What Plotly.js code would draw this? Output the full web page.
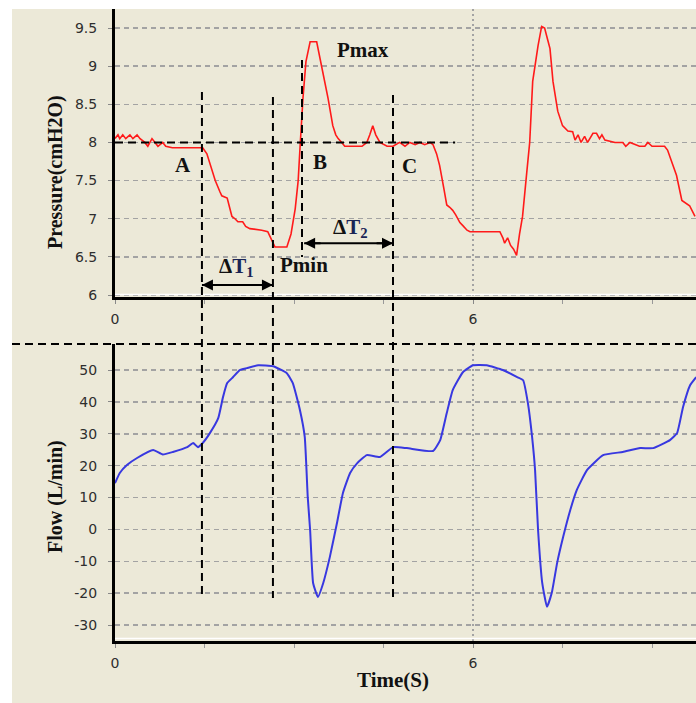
<!DOCTYPE html>
<html>
<head>
<meta charset="utf-8">
<script src="https://cdn.plot.ly/plotly-3.0.1.min.js"></script>
<style>html,body{margin:0;padding:0;background:#fff;}#chart{width:696px;height:703px;}</style>
</head>
<body>
<div id="chart"></div>
<script>
// Pressure (cmH2O) vs time (s)
const pressureTime = [0,0.05,0.08,0.13,0.18,0.25,0.30,0.37,0.42,0.50,0.55,0.62,0.67,0.72,0.80,0.85,0.96,1.47,1.54,1.59,1.64,1.68,1.76,1.79,1.88,1.93,1.96,2.01,2.06,2.14,2.19,2.26,2.46,2.56,2.63,2.68,2.88,2.95,3.02,3.07,3.10,3.15,3.20,3.27,3.38,3.43,3.48,3.57,3.65,3.70,3.74,3.80,3.85,4.14,4.22,4.27,4.32,4.37,4.44,4.56,4.66,4.77,4.86,4.94,5.03,5.11,5.19,5.28,5.33,5.39,5.44,5.51,5.56,5.61,5.66,5.71,5.78,5.83,5.90,5.95,6.45,6.50,6.53,6.58,6.63,6.68,6.73,6.78,6.83,6.90,6.95,7.00,7.05,7.09,7.15,7.20,7.25,7.29,7.34,7.39,7.42,7.50,7.59,7.67,7.71,7.76,7.81,7.87,7.92,8.01,8.07,8.12,8.16,8.21,8.38,8.51,8.56,8.63,8.79,8.88,8.93,9.00,9.21,9.26,9.33,9.41,9.50,9.63,9.72];
const pressureValue = [8.05,8.1,8.05,8.1,8.05,8.1,8.05,8.1,8.05,8.0,7.95,8.05,8.0,7.95,8.0,7.95,7.93,7.93,7.85,7.72,7.6,7.5,7.35,7.3,7.27,7.1,7.03,7.0,6.96,6.96,6.9,6.87,6.85,6.83,6.72,6.63,6.63,6.8,7.13,7.5,7.92,8.58,9.06,9.32,9.32,9.1,8.93,8.58,8.22,8.1,8.05,8.0,7.95,7.95,8.0,8.1,8.22,8.1,8.0,7.95,7.95,8.0,7.95,8.0,7.97,8.0,7.97,8.0,7.97,7.85,7.7,7.4,7.18,7.15,7.11,7.05,6.95,6.91,6.85,6.83,6.83,6.75,6.68,6.75,6.65,6.6,6.52,6.8,7.03,7.6,8.0,8.8,9.1,9.27,9.52,9.5,9.35,9.23,8.8,8.55,8.41,8.22,8.15,8.14,8.03,8.1,8.0,8.08,8.0,8.12,8.12,8.05,8.1,8.03,8.0,8.0,7.95,8.0,7.95,7.95,8.0,7.95,7.95,7.9,7.75,7.57,7.24,7.17,7.03];

// Flow (L/min) vs time (s)
const flowTime = [0,0.08,0.20,0.37,0.64,0.80,0.97,1.21,1.31,1.39,1.47,1.59,1.73,1.81,1.88,1.98,2.09,2.21,2.40,2.65,2.88,2.98,3.10,3.18,3.23,3.27,3.32,3.40,3.49,3.60,3.72,3.82,3.94,4.06,4.22,4.44,4.66,4.89,5.33,5.45,5.56,5.66,5.83,6.00,6.23,6.50,6.74,6.84,6.92,6.99,7.04,7.09,7.16,7.24,7.32,7.41,7.51,7.63,7.74,7.91,8.18,8.51,8.80,9.02,9.30,9.42,9.52,9.64,9.74];
const flowValue = [14.5,17.7,20.2,22.4,24.9,23.5,24.3,25.8,27.1,25.8,27.1,30.2,34.9,41.5,45.9,47.8,50,50.6,51.5,51.2,49,45.9,37.4,29,10.2,-0.2,-16.8,-21.2,-16.8,-8.7,2,11.4,17.7,20.8,23.3,22.7,25.8,25.5,24.6,28,36.5,43.7,49.3,51.5,51.5,50,47.8,46.8,39.6,29,18.6,-0.2,-16.8,-24.3,-19.9,-10.5,-2.4,6.1,12.4,18.6,23.3,24.3,25.5,25.5,28,30.2,38.4,45.3,47.8];

// Tick labels
const xTickVals = [0, 6];
const pressureTicks = [6, 6.5, 7, 7.5, 8, 8.5, 9, 9.5];
const flowTicks = [-30, -20, -10, 0, 10, 20, 30, 40, 50];

// Marker times: A, end of dT1, B, C
const markerTime = [1.457, 2.647, 3.134, 4.659];
const baselinePressure = 8;
const baselineEnd = 5.70;

const beige = '#ECE9D8';
const gridCol = '#a3a3a3';
const serif = 'Liberation Serif, Times New Roman, serif';
const tickFont = {family: 'DejaVu Sans, Verdana, sans-serif', size: 14, color: '#2e2e2e'};

const xCommon = {
  range: [0, 9.737], tickmode: 'array', tickvals: xTickVals, ticktext: xTickVals.map(String),
  showgrid: true, gridcolor: gridCol, gridwidth: 1.5, griddash: '2px,3px',
  zeroline: false, showline: true, linecolor: '#000', linewidth: 3,
  ticks: 'outside', ticklen: 4, tickcolor: '#888', tickwidth: 1,
  minor: {dtick: 1.5, tick0: 0, ticks: 'outside', ticklen: 4, tickcolor: '#999', showgrid: false},
  tickfont: tickFont, ticklabelstandoff: 3, fixedrange: true
};
const yCommon = {
  showgrid: true, gridcolor: gridCol, gridwidth: 1.5, griddash: '5px,4px',
  zeroline: false, showline: true, linecolor: '#000', linewidth: 3,
  ticks: 'outside', ticklen: 4, tickcolor: '#888', tickwidth: 1, tickmode: 'array',
  tickfont: tickFont, ticklabelstandoff: 8, fixedrange: true
};

const data = [
  {x: pressureTime, y: pressureValue, xaxis: 'x', yaxis: 'y', type: 'scatter', mode: 'lines',
   line: {color: '#ff1a1a', width: 1.6}, hoverinfo: 'skip'},
  {x: flowTime, y: flowValue, xaxis: 'x2', yaxis: 'y2', type: 'scatter', mode: 'lines',
   line: {color: '#3838e0', width: 2, shape: 'spline', smoothing: 0.4}, hoverinfo: 'skip'}
];

const pyTop = 0.5443;
const pyBot2 = 0.4699;
const pxToPaperY = p => (641 - p) / 632;
const pxToPaperX = p => (p - 115) / 581;

const dashBlack = {color: '#000', width: 2, dash: '8px,5px'};
const vExtents = [[92, 595], [97, 598], [60, 257], [95, 597]];

const shapes = [];
shapes.push({type: 'rect', xref: 'paper', yref: 'paper', x0: pxToPaperX(-2), x1: pxToPaperX(12), y0: pxToPaperY(705), y1: pxToPaperY(-2), fillcolor: '#fff', line: {width: 0}, layer: 'below'});
shapes.push({type: 'rect', xref: 'paper', yref: 'paper', x0: pxToPaperX(-2), x1: pxToPaperX(698), y0: pxToPaperY(9), y1: pxToPaperY(-2), fillcolor: '#fff', line: {width: 0}, layer: 'below'});
shapes.push({type: 'line', xref: 'paper', yref: 'paper', x0: 0, x1: 1, y0: pxToPaperY(294.5), y1: pxToPaperY(294.5), line: {color: '#fff', width: 1.5}, layer: 'above'});
shapes.push({type: 'line', xref: 'paper', yref: 'paper', x0: 0, x1: 1, y0: pxToPaperY(638.5), y1: pxToPaperY(638.5), line: {color: '#fff', width: 1.5}, layer: 'above'});
shapes.push({type: 'line', xref: 'paper', yref: 'paper', x0: pxToPaperX(12), x1: 1, y0: pyBot2, y1: pyBot2, line: dashBlack, layer: 'above'});
shapes.push({type: 'line', xref: 'x', yref: 'y', x0: 0, x1: baselineEnd, y0: baselinePressure, y1: baselinePressure, line: dashBlack, layer: 'above'});
markerTime.forEach((t, i) => {
  shapes.push({type: 'line', xref: 'x', yref: 'paper', x0: t, x1: t,
    y0: pxToPaperY(vExtents[i][0]), y1: pxToPaperY(vExtents[i][1]), line: dashBlack, layer: 'above'});
});
// double-headed arrows as lines with triangular heads (shapes)
function dblArrow(t0, t1, p) {
  shapes.push({type: 'line', xref: 'x', yref: 'y', x0: t0, x1: t1, y0: p, y1: p, line: {color: '#000', width: 2}, layer: 'above'});
}
dblArrow(markerTime[0], markerTime[1], 6.13);
dblArrow(3.17, markerTime[3], 6.68);

const lab = (text, x, y, extra) => Object.assign({text: text, x: x, y: y, xref: 'x', yref: 'y', showarrow: false,
  font: {family: serif, size: 21, color: '#111'}, xanchor: 'center', yanchor: 'middle'}, extra || {});

const arrowHead = (xHead, xTail, y) => ({x: xHead, y: y, ax: xTail, ay: y, xref: 'x', yref: 'y', axref: 'x', ayref: 'y',
  text: '', showarrow: true, arrowhead: 2, arrowsize: 1.1, arrowwidth: 2, arrowcolor: '#000', standoff: 0});

const annotations = [
  lab('<b>A</b>', 1.14, 7.70),
  lab('<b>B</b>', 3.44, 7.75),
  lab('<b>C</b>', 4.94, 7.69),
  lab('<b>Pmax</b>', 4.16, 9.21),
  lab('<b>Pmin</b>', 3.17, 6.39),
  lab('<b>Δ<span style="color:#1a2455">T<sub>1</sub></span></b>', 2.03, 6.37),
  lab('<b>Δ<span style="color:#1a2455">T<sub>2</sub></span></b>', 3.955, 6.88),
  arrowHead(markerTime[1], markerTime[1] - 0.3, 6.13),
  arrowHead(markerTime[0], markerTime[0] + 0.3, 6.13),
  arrowHead(markerTime[3], markerTime[3] - 0.3, 6.68),
  arrowHead(3.17, 3.47, 6.68),
  {text: '<b>Pressure(cmH2O)</b>', xref: 'paper', yref: 'paper', x: pxToPaperX(55), y: pxToPaperY(172), textangle: -90,
   showarrow: false, font: {family: serif, size: 20, color: '#111'}, xanchor: 'center', yanchor: 'middle'},
  {text: '<b>Flow (L/min)</b>', xref: 'paper', yref: 'paper', x: pxToPaperX(55), y: pxToPaperY(497), textangle: -90,
   showarrow: false, font: {family: serif, size: 20, color: '#111'}, xanchor: 'center', yanchor: 'middle'},
  {text: '<b>Time(S)</b>', xref: 'paper', yref: 'paper', x: pxToPaperX(393), y: pxToPaperY(680),
   showarrow: false, font: {family: serif, size: 21, color: '#111'}, xanchor: 'center', yanchor: 'middle'}
];

const layout = {
  width: 696, height: 703,
  margin: {l: 115, r: 0, t: 9, b: 62, pad: 0},
  paper_bgcolor: beige, plot_bgcolor: beige,
  showlegend: false,
  xaxis: Object.assign({}, xCommon, {anchor: 'y'}),
  yaxis: Object.assign({}, yCommon, {domain: [pyTop, 1], range: [5.974, 9.749],
    tickvals: pressureTicks, ticktext: pressureTicks.map(String), anchor: 'x'}),
  xaxis2: Object.assign({}, xCommon, {anchor: 'y2'}),
  yaxis2: Object.assign({}, yCommon, {domain: [0, pyBot2], range: [-35.02, 58.16],
    tickvals: flowTicks, ticktext: flowTicks.map(String), anchor: 'x2'}),
  shapes: shapes,
  annotations: annotations
};

Plotly.newPlot('chart', data, layout, {displayModeBar: false, staticPlot: true});
</script>
</body>
</html>
